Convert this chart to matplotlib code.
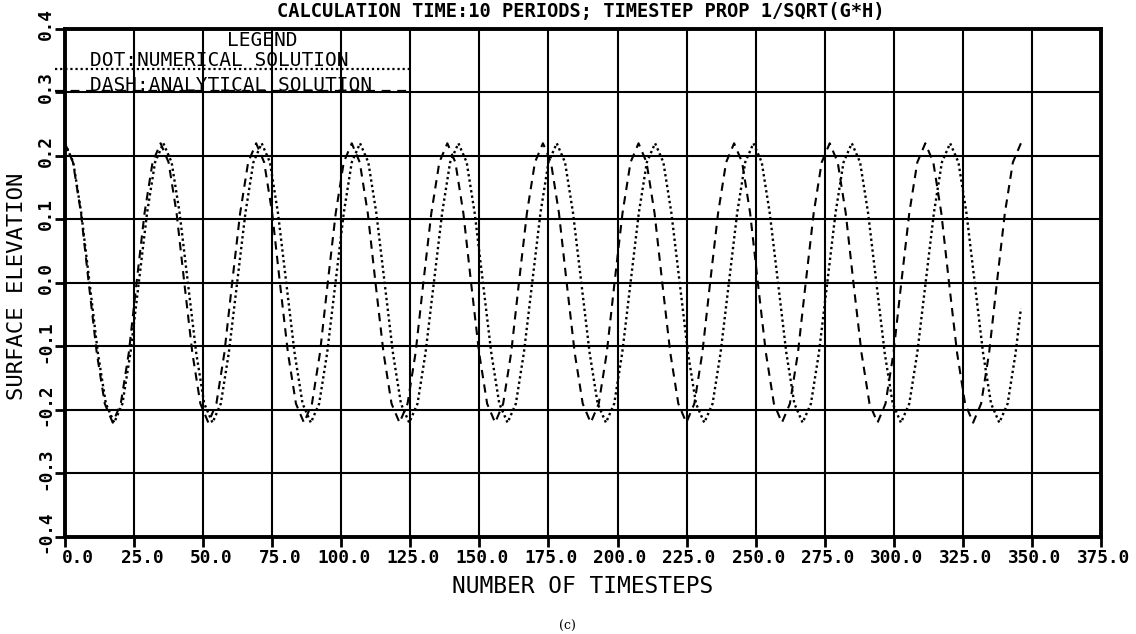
#Surface elevation vs timesteps: numerical scheme against the analytical wave.

import matplotlib.pyplot as plt
import numpy as np
from matplotlib.transforms import ScaledTranslation

# analytical solution (dashed), one row per wave period
t_analytical = [
        0.0, 2.9, 5.8, 8.6, 11.5, 14.4, 17.3, 20.2, 23.1, 25.9, 28.8, 31.7,
        34.6, 37.5, 40.4, 43.2, 46.1, 49.0, 51.9, 54.8, 57.7, 60.5, 63.4, 66.3,
        69.2, 72.1, 75.0, 77.8, 80.7, 83.6, 86.5, 89.4, 92.3, 95.1, 98.0, 100.9,
        103.8, 106.7, 109.6, 112.4, 115.3, 118.2, 121.1, 124.0, 126.9, 129.7, 132.6, 135.5,
        138.4, 141.3, 144.2, 147.0, 149.9, 152.8, 155.7, 158.6, 161.5, 164.3, 167.2, 170.1,
        173.0, 175.9, 178.8, 181.6, 184.5, 187.4, 190.3, 193.2, 196.1, 198.9, 201.8, 204.7,
        207.6, 210.5, 213.4, 216.2, 219.1, 222.0, 224.9, 227.8, 230.7, 233.5, 236.4, 239.3,
        242.2, 245.1, 248.0, 250.8, 253.7, 256.6, 259.5, 262.4, 265.3, 268.1, 271.0, 273.9,
        276.8, 279.7, 282.6, 285.4, 288.3, 291.2, 294.1, 297.0, 299.9, 302.7, 305.6, 308.5,
        311.4, 314.3, 317.2, 320.0, 322.9, 325.8, 328.7, 331.6, 334.5, 337.3, 340.2, 343.1,
        346.0]
elev_analytical = [
        0.22, 0.19, 0.11, 0.0, -0.11, -0.19, -0.22, -0.19, -0.11, 0.0, 0.11, 0.19,
        0.22, 0.19, 0.11, 0.0, -0.11, -0.19, -0.22, -0.19, -0.11, 0.0, 0.11, 0.19,
        0.22, 0.19, 0.11, 0.0, -0.11, -0.19, -0.22, -0.19, -0.11, 0.0, 0.11, 0.19,
        0.22, 0.19, 0.11, 0.0, -0.11, -0.19, -0.22, -0.19, -0.11, 0.0, 0.11, 0.19,
        0.22, 0.19, 0.11, 0.0, -0.11, -0.19, -0.22, -0.19, -0.11, 0.0, 0.11, 0.19,
        0.22, 0.19, 0.11, 0.0, -0.11, -0.19, -0.22, -0.19, -0.11, 0.0, 0.11, 0.19,
        0.22, 0.19, 0.11, 0.0, -0.11, -0.19, -0.22, -0.19, -0.11, 0.0, 0.11, 0.19,
        0.22, 0.19, 0.11, 0.0, -0.11, -0.19, -0.22, -0.19, -0.11, 0.0, 0.11, 0.19,
        0.22, 0.19, 0.11, 0.0, -0.11, -0.19, -0.22, -0.19, -0.11, 0.0, 0.11, 0.19,
        0.22, 0.19, 0.11, 0.0, -0.11, -0.19, -0.22, -0.19, -0.11, 0.0, 0.11, 0.19,
        0.22]

# numerical solution (dotted), slightly longer period
t_numerical = [
        0.0, 3.0, 5.9, 8.9, 11.9, 14.8, 17.8, 20.8, 23.7, 26.7, 29.7, 32.6,
        35.6, 38.6, 41.5, 44.5, 47.5, 50.4, 53.4, 56.4, 59.3, 62.3, 65.3, 68.2,
        71.2, 74.2, 77.1, 80.1, 83.1, 86.0, 89.0, 92.0, 94.9, 97.9, 100.9, 103.8,
        106.8, 109.8, 112.7, 115.7, 118.7, 121.6, 124.6, 127.6, 130.5, 133.5, 136.5, 139.4,
        142.4, 145.4, 148.3, 151.3, 154.3, 157.2, 160.2, 163.2, 166.1, 169.1, 172.1, 175.0,
        178.0, 181.0, 183.9, 186.9, 189.9, 192.8, 195.8, 198.8, 201.7, 204.7, 207.7, 210.6,
        213.6, 216.6, 219.5, 222.5, 225.5, 228.4, 231.4, 234.4, 237.3, 240.3, 243.3, 246.2,
        249.2, 252.2, 255.1, 258.1, 261.1, 264.0, 267.0, 270.0, 272.9, 275.9, 278.9, 281.8,
        284.8, 287.8, 290.7, 293.7, 296.7, 299.6, 302.6, 305.6, 308.5, 311.5, 314.5, 317.4,
        320.4, 323.4, 326.3, 329.3, 332.3, 335.2, 338.2, 341.2, 344.1, 346.0]
elev_numerical = [
        0.22, 0.19, 0.11, 0.0, -0.11, -0.19, -0.22, -0.19, -0.11, 0.0, 0.11, 0.19,
        0.22, 0.19, 0.11, 0.0, -0.11, -0.19, -0.22, -0.19, -0.11, 0.0, 0.11, 0.19,
        0.22, 0.19, 0.11, 0.0, -0.11, -0.19, -0.22, -0.19, -0.11, 0.0, 0.11, 0.19,
        0.22, 0.19, 0.11, 0.0, -0.11, -0.19, -0.22, -0.19, -0.11, 0.0, 0.11, 0.19,
        0.22, 0.19, 0.11, 0.0, -0.11, -0.19, -0.22, -0.19, -0.11, 0.0, 0.11, 0.19,
        0.22, 0.19, 0.11, 0.0, -0.11, -0.19, -0.22, -0.19, -0.11, 0.0, 0.11, 0.19,
        0.22, 0.19, 0.11, 0.0, -0.11, -0.19, -0.22, -0.19, -0.11, 0.0, 0.11, 0.19,
        0.22, 0.19, 0.11, 0.0, -0.11, -0.19, -0.22, -0.19, -0.11, 0.0, 0.11, 0.19,
        0.22, 0.19, 0.11, 0.0, -0.11, -0.19, -0.22, -0.19, -0.11, 0.0, 0.11, 0.19,
        0.22, 0.19, 0.11, 0.0, -0.11, -0.19, -0.22, -0.19, -0.11, -0.04]

x_ticks = [0, 25, 50, 75, 100, 125, 150, 175, 200, 225, 250, 275, 300, 325, 350, 375]
y_ticks = [-0.4, -0.3, -0.2, -0.1, 0.0, 0.1, 0.2, 0.3, 0.4]

mono = "DejaVu Sans Mono"

fig = plt.figure(figsize=(11.36, 6.34), dpi=100)
ax = fig.add_axes([0.0572, 0.153, 0.912, 0.8013])

ax.plot(t_numerical, elev_numerical, color="black", lw=1.7, linestyle=(0, (1, 1.3)))
ax.plot(t_analytical, elev_analytical, color="black", lw=1.5, linestyle=(0, (4, 3)))

ax.set_xlim(0, 375)
ax.set_ylim(-0.4, 0.4)
ax.set_xticks(x_ticks)
ax.set_yticks(y_ticks)
ax.set_xticklabels(["%.1f" % v for v in x_ticks], fontfamily=mono, fontweight="bold", fontsize=12.8)
ax.set_yticklabels(["%.1f" % v for v in y_ticks], fontfamily=mono, fontweight="bold", fontsize=12.8,
                   rotation=90, va="center")
ax.grid(True, color="black", lw=1.5)
ax.set_axisbelow(True)
for s in ax.spines.values():
        s.set_linewidth(2.8)
ax.tick_params(axis="x", direction="out", length=7, width=2, pad=1.8)
ax.tick_params(axis="y", direction="out", length=7, width=2, pad=0.5)

# shift tick labels the way the plotter placed them
for lab in ax.get_xticklabels():
        lab.set_ha("right")
        lab.set_transform(lab.get_transform() + ScaledTranslation(0.29, 0, fig.dpi_scale_trans))
for lab in ax.get_yticklabels():
        lab.set_transform(lab.get_transform() + ScaledTranslation(0, 0.05, fig.dpi_scale_trans))

ax.set_xlabel("NUMBER OF TIMESTEPS", fontfamily=mono, fontsize=16.5, va="center")
ax.xaxis.set_label_coords(0.5, -0.0984)
ax.set_ylabel("SURFACE ELEVATION", fontfamily=mono, fontsize=16, va="center")
ax.yaxis.set_label_coords(-0.0463, 0.494)

# legend block in the upper left corner
ax.text(0.190, 0.978, "LEGEND", transform=ax.transAxes, ha="center", va="center",
        fontfamily=mono, fontsize=14)
ax.text(0.0241, 0.937, "DOT:NUMERICAL SOLUTION", transform=ax.transAxes, ha="left", va="center",
        fontfamily=mono, fontsize=14)
ax.text(0.0241, 0.888, "DASH:ANALYTICAL SOLUTION", transform=ax.transAxes, ha="left", va="center",
        fontfamily=mono, fontsize=14)
ax.plot([-3.6, 125], [0.337, 0.337], color="black", lw=1.6, linestyle=(0, (1, 1.3)), clip_on=False)
ax.plot([-3.6, 125], [0.302, 0.302], color="black", lw=1.6, linestyle=(0, (4, 3)), clip_on=False)

fig.text(0.5114, 0.982, "CALCULATION TIME:10 PERIODS; TIMESTEP PROP 1/SQRT(G*H)",
         ha="center", va="center", fontfamily=mono, fontweight="bold", fontsize=13.5)
fig.text(567 / 1136, 1 - 626 / 634, "(c)", ha="center", va="center",
         fontfamily="DejaVu Serif", fontsize=9)

plt.savefig("out.png", dpi=100)
